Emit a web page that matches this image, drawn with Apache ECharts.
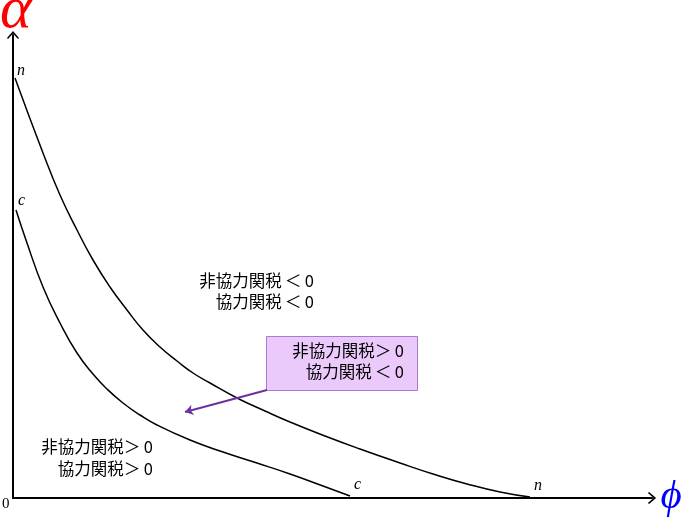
<!DOCTYPE html>
<html><head><meta charset="utf-8">
<script src="https://cdn.jsdelivr.net/npm/echarts@6/dist/echarts.min.js"></script>
<style>html,body{margin:0;padding:0;background:#fff}#c{width:688px;height:520px}</style>
</head><body><div id="c"></div>
<script>
// curve "n" (non-cooperative tariff zero line)
const nPhi   = [2, 30, 47, 64, 80, 97, 114, 130, 147, 164, 180, 197, 224, 252, 277, 312, 347, 387, 420, 454, 487, 517];
const nAlpha = [420, 345, 303, 268, 238, 211, 188, 168, 151, 137, 125, 115, 100, 87, 76, 62, 49, 35, 24, 14, 6, 1];
// curve "c" (cooperative tariff zero line)
const cPhi   = [3, 14, 30, 47, 64, 80, 94, 110, 127, 144, 177, 210, 244, 277, 310, 337];
const cAlpha = [288, 255, 211, 175, 145, 124, 109, 95, 83, 73, 58, 46, 35, 24, 12, 2];
// annotation arrow (from box to region)
const arrowFrom = [254, 108];
const arrowTo   = [172, 86];

const zip = (a, b) => a.map((v, i) => [v, b[i]]);
const chevron = 'path://M0,0 L6,7 L5,8.2 L0,2.6 L-5,8.2 L-6,7 Z';
const cjk = '"Noto Sans CJK JP", "Noto Sans", sans-serif';

function endMark(name, pt, off) {
  return {coord: pt, symbol: 'circle', symbolSize: 0,
    label: {show: true, formatter: name, position: 'right', distance: 2, offset: off,
      fontFamily: '"Liberation Serif", serif', fontStyle: 'italic', fontSize: 16, color: '#000'}};
}

const chart = echarts.init(document.getElementById('c'));
chart.setOption({
  animation: false,
  grid: {left: 13, right: 36, top: 35, bottom: 22},
  xAxis: {type: 'value', min: 0, max: 639,
    axisLine: {show: true, symbol: ['none', chevron], symbolSize: [12, 12], lineStyle: {color: '#000', width: 2}},
    axisTick: {show: false}, axisLabel: {show: false}, splitLine: {show: false}},
  yAxis: {type: 'value', min: 0, max: 463,
    axisLine: {show: true, symbol: ['none', chevron], symbolSize: [12, 12], lineStyle: {color: '#000', width: 2}},
    axisTick: {show: false}, axisLabel: {show: false}, splitLine: {show: false}},
  series: [
    {type: 'line', data: zip(nPhi, nAlpha), smooth: 0.5, showSymbol: false,
      lineStyle: {color: '#000', width: 1.5},
      markPoint: {data: [
        endMark('n', [nPhi[0], nAlpha[0]], [0, -7]),
        endMark('n', [nPhi[nPhi.length - 1], nAlpha[nAlpha.length - 1]], [2, -11])
      ]}},
    {type: 'line', data: zip(cPhi, cAlpha), smooth: 0.5, showSymbol: false,
      lineStyle: {color: '#000', width: 1.5},
      markPoint: {data: [
        endMark('c', [cPhi[0], cAlpha[0]], [0, -9]),
        endMark('c', [cPhi[cPhi.length - 1], cAlpha[cAlpha.length - 1]], [2, -11])
      ]},
      markLine: {silent: true, symbol: ['none', 'arrow'], symbolSize: 8, label: {show: false},
        lineStyle: {color: '#7030a0', width: 2, type: 'solid'},
        data: [[{coord: arrowFrom}, {coord: arrowTo}]]}}
  ],
  graphic: [
    {type: 'rect', shape: {x: 266.5, y: 336.5, width: 151, height: 54},
      style: {fill: '#ebcafb', stroke: '#a77bd0', lineWidth: 1}, z: 5},
    {type: 'text', x: 404, y: 361, z: 10, style: {text: '非協力関税＞ 0\n協力関税\u2009＜\u20090', align: 'right', verticalAlign: 'middle',
      font: '16.5px ' + cjk, lineHeight: 21, fill: '#000'}},
    {type: 'text', x: 314, y: 291, z: 10, style: {text: '非協力関税\u2009＜\u20090\n協力関税\u2009＜\u20090', align: 'right', verticalAlign: 'middle',
      font: '16.5px ' + cjk, lineHeight: 21, fill: '#000'}},
    {type: 'text', x: 153, y: 458, z: 10, style: {text: '非協力関税＞ 0\n協力関税＞ 0', align: 'right', verticalAlign: 'middle',
      font: '16.5px ' + cjk, lineHeight: 22, fill: '#000'}},
    {type: 'text', x: 0, y: 11, style: {text: 'α', font: 'italic 60px "Liberation Serif", serif', fill: '#ff0000', verticalAlign: 'middle'}},
    {type: 'text', x: 671, y: 497, style: {text: 'ϕ', font: 'italic 41px "Liberation Serif", serif', fill: '#0000ff', align: 'center', verticalAlign: 'middle'}},
    {type: 'text', x: 2, y: 497, style: {text: '0', font: '15px "Liberation Serif", serif', fill: '#000'}}
  ]
});
</script></body></html>
